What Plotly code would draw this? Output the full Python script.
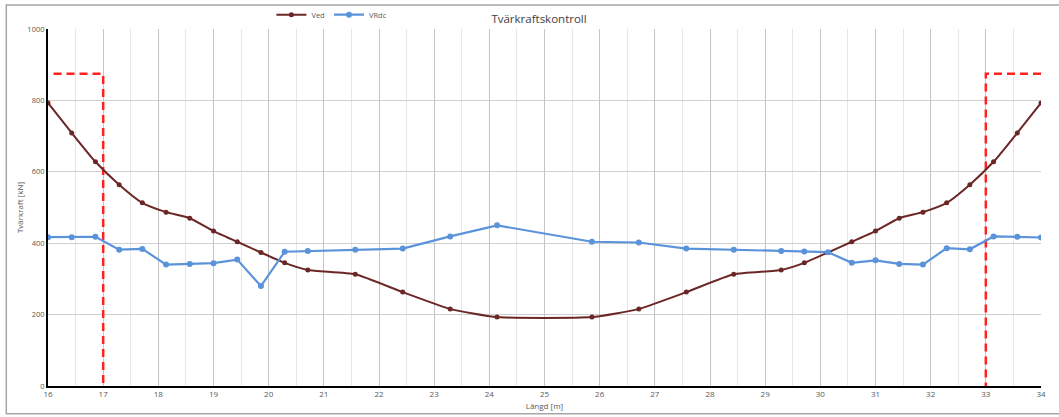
import plotly.graph_objects as go

# Positions along the beam [m]
x_pos = [16.0, 16.43, 16.86, 17.29, 17.71, 18.14, 18.57, 19.0, 19.43, 19.86,
         20.29, 20.71, 21.57, 22.43, 23.29, 24.14, 25.86, 26.71, 27.57, 28.43,
         29.29, 29.71, 30.14, 30.57, 31.0, 31.43, 31.86, 32.29, 32.71, 33.14,
         33.57, 34.0]

# Design shear force Ved [kN]
ved = [793, 709, 628, 564, 513, 487, 470, 434, 404, 374,
       345, 325, 313, 263, 216, 193, 193, 216, 263, 313,
       325, 345, 374, 404, 434, 470, 487, 513, 564, 628,
       709, 793]

# Shear capacity VRdc [kN]
vrdc = [417, 417, 418, 382, 384, 340, 342, 344, 354, 280,
        376, 378, 382, 385, 419, 450, 404, 402, 385, 382,
        378, 377, 375, 345, 352, 342, 340, 386, 383, 419,
        418, 416]

# Support zone markers (red dashed)
support_left_x = [16.1, 17, 17]
support_right_x = [34, 33, 33]
support_y = [875, 875, 0]

x_ticks = list(range(16, 35))
y_ticks = [0, 200, 400, 600, 800, 1000]
y_grid = [200, 400, 600, 800]

FONT = "Open Sans"
TICK_COL = "#595959"

fig = go.Figure()

for xs in (support_left_x, support_right_x):
    fig.add_trace(go.Scatter(
        x=xs, y=support_y, mode="lines", showlegend=False, hoverinfo="skip",
        line=dict(color="#FF2020", width=2.5, dash="8px,5px")))

fig.add_trace(go.Scatter(
    x=x_pos, y=ved, name="Ved", mode="lines+markers", legend="legend",
    line=dict(color="#6B2626", width=2, shape="spline", smoothing=0.5),
    marker=dict(color="#6B2626", size=5)))

fig.add_trace(go.Scatter(
    x=x_pos, y=vrdc, name="VRdc", mode="lines+markers", legend="legend2",
    line=dict(color="#5B93DB", width=2.2),
    marker=dict(color="#5B93DB", size=6)))

# Chart outer border
fig.add_shape(type="rect", xref="paper", yref="paper",
              x0=-0.042, x1=1.05, y0=-0.078, y1=1.067,
              line=dict(color="#A6A6A6", width=1.5), layer="below")

legend_style = dict(orientation="h", xanchor="left", y=1.04, yanchor="middle",
                    font=dict(family=FONT, size=7.5, color=TICK_COL),
                    itemwidth=30, bgcolor="rgba(0,0,0,0)")

fig.update_layout(
    width=1059, height=417,
    margin=dict(l=48, r=18, t=29, b=31, autoexpand=False),
    paper_bgcolor="white", plot_bgcolor="white",
    font=dict(family=FONT, color=TICK_COL, size=8),
    title=dict(text="Tvärkraftskontroll", x=0.509, xanchor="center",
               y=0.955, yanchor="middle",
               font=dict(family=FONT, size=11.5, color="#404040")),
    legend=dict(x=0.225, **legend_style),
    legend2=dict(x=0.283, **legend_style),
    showlegend=True,
)

fig.update_xaxes(
    range=[16, 34], tickvals=x_ticks, ticktext=[str(v) for v in x_ticks],
    showgrid=True, gridcolor="#C4C4C4", gridwidth=1,
    minor=dict(dtick=0.5, tick0=16, showgrid=True, gridcolor="#E6E6E6", gridwidth=1),
    showline=True, linecolor="black", linewidth=1.5,
    ticks="", zeroline=False, automargin=False,
    tickfont=dict(family=FONT, size=8, color=TICK_COL),
    title=dict(text="Längd [m]", standoff=5,
               font=dict(family=FONT, size=8, color=TICK_COL)),
)

fig.update_yaxes(
    range=[0, 1000], tickvals=y_ticks, ticktext=[str(v) for v in y_ticks],
    showgrid=False,
    minor=dict(tickvals=y_grid, showgrid=True, gridcolor="#CFCFCF", gridwidth=1, ticks=""),
    showline=True, linecolor="black", linewidth=2,
    ticks="", zeroline=False, automargin=False,
    tickfont=dict(family=FONT, size=7.5, color=TICK_COL),
    title=dict(text="Tvärkraft [kN]", standoff=3,
               font=dict(family=FONT, size=8, color=TICK_COL)),
)

fig.write_html("out.html", config={"displayModeBar": False},
               post_script="document.body.style.margin='0';document.body.style.padding='0';")
